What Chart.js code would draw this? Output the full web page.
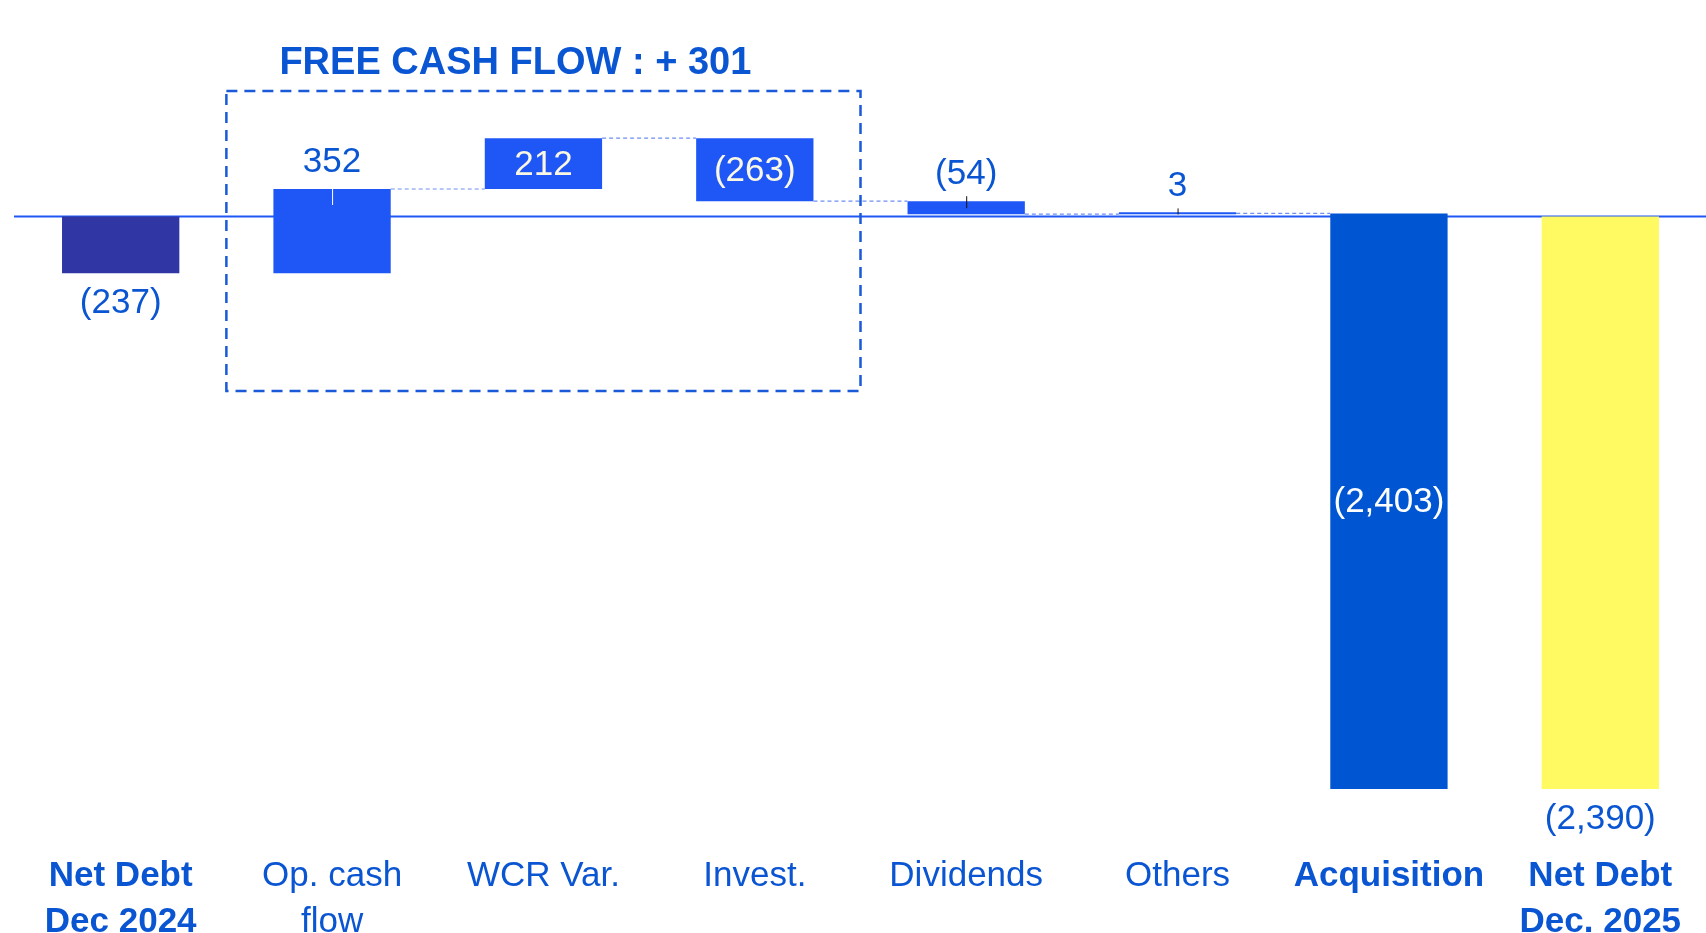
<!DOCTYPE html>
<html>
<head>
<meta charset="utf-8">
<script src="https://cdn.jsdelivr.net/npm/chart.js@4.4.1/dist/chart.umd.min.js"></script>
<style>
  html, body { margin: 0; padding: 0; background: #ffffff; }
  #wrap { width: 1706px; height: 933px; position: relative; }
</style>
</head>
<body>
<div id="wrap"><canvas id="chart_bridge"></canvas></div>
<script>
// net debt bridge, Dec 2024 -> Dec 2025
const categories = [['Net Debt', 'Dec 2024'], ['Op. cash', 'flow'], 'WCR Var.', 'Invest.', 'Dividends', 'Others', 'Acquisition', ['Net Debt', 'Dec. 2025']];
const movements = [-237, 352, 212, -263, -54, 3, -2403, -2390];
const isTotal = [true, false, false, false, false, false, false, true];
const boldLabel = [true, false, false, false, false, false, true, true];
const labelPlacement = ['below', 'above', 'inside', 'inside', 'above', 'above', 'inside', 'below'];
const fcfItems = [1, 2, 3];
const fcfBoxRange = [524, -728];

const FONT = "'Liberation Sans', Arial, sans-serif";
const TEXT_BLUE = '#0a55d2';
const barColors = ['#3036a3', '#1f57f7', '#1f57f7', '#1f57f7', '#1f57f7', '#1f57f7', '#0056d2', '#fffa61'];

const ranges = [];
let running = 0;
movements.forEach((v, i) => {
  if (isTotal[i]) {
    ranges.push([0, v]);
    running = v;
  } else {
    ranges.push([running, running + v]);
    running += v;
  }
});

const fcfTotal = fcfItems.reduce((s, i) => s + movements[i], 0);

function fmt(v) {
  const s = Math.abs(v).toLocaleString('en-US');
  return v < 0 ? '(' + s + ')' : s;
}

const bridgePlugin = {
  id: 'bridge',
  beforeDatasetsDraw: chart => {
    const { ctx, chartArea } = chart;
    const y0 = chart.scales.y.getPixelForValue(0);
    ctx.save();
    ctx.beginPath();
    ctx.moveTo(chartArea.left - 1, y0);
    ctx.lineTo(chartArea.right, y0);
    ctx.lineWidth = 2;
    ctx.strokeStyle = '#1f57f7';
    ctx.stroke();
    ctx.restore();
  },
  afterDatasetsDraw: chart => {
    const { ctx } = chart;
    const xs = chart.scales.x;
    const ys = chart.scales.y;
    const bars = chart.getDatasetMeta(0).data;

    // connectors between floating bars
    ctx.save();
    ctx.setLineDash([4, 3]);
    ctx.lineWidth = 1.2;
    ctx.strokeStyle = '#6f8ff2';
    for (let i = 1; i < bars.length - 2; i++) {
      const y = ys.getPixelForValue(ranges[i][1]);
      const a = bars[i], b = bars[i + 1];
      ctx.beginPath();
      ctx.moveTo(a.x + a.width / 2, y);
      ctx.lineTo(b.x - b.width / 2, y);
      ctx.stroke();
    }
    ctx.restore();

    // small leader ticks
    ctx.save();
    ctx.lineWidth = 1;
    bars.forEach((bar, i) => {
      if (labelPlacement[i] !== 'above') return;
      const top = Math.min(ys.getPixelForValue(ranges[i][0]), ys.getPixelForValue(ranges[i][1]));
      const bottom = Math.max(ys.getPixelForValue(ranges[i][0]), ys.getPixelForValue(ranges[i][1]));
      ctx.beginPath();
      if (i === 1) {
        ctx.strokeStyle = '#ffffff';
        ctx.moveTo(bar.x + 0.5, top);
        ctx.lineTo(bar.x + 0.5, top + 16);
      } else {
        ctx.strokeStyle = '#111111';
        ctx.moveTo(bar.x + 0.5, top - 5);
        ctx.lineTo(bar.x + 0.5, Math.max(bottom, top + 1) + (i === 4 ? -6 : 0));
      }
      ctx.stroke();
    });
    ctx.restore();

    // value labels
    ctx.save();
    ctx.font = '35px ' + FONT;
    ctx.textAlign = 'center';
    ctx.textBaseline = 'middle';
    bars.forEach((bar, i) => {
      const p0 = ys.getPixelForValue(ranges[i][0]);
      const p1 = ys.getPixelForValue(ranges[i][1]);
      const top = Math.min(p0, p1), bottom = Math.max(p0, p1);
      let y, color = TEXT_BLUE;
      if (labelPlacement[i] === 'above') y = top - 27;
      else if (labelPlacement[i] === 'below') y = bottom + 30;
      else {
        y = (top + bottom) / 2 + 1.5;
        color = i === 6 ? '#ffffff' : '#fbf8e2';
      }
      ctx.fillStyle = color;
      ctx.fillText(fmt(movements[i]), bar.x, y);
    });
    ctx.restore();

    // free cash flow box + heading
    const half = (chart.chartArea.width / categories.length) / 2;
    const left = xs.getPixelForValue(fcfItems[0]) - half;
    const right = xs.getPixelForValue(fcfItems[fcfItems.length - 1]) + half;
    const top = ys.getPixelForValue(fcfBoxRange[0]);
    const bottom = ys.getPixelForValue(fcfBoxRange[1]);
    ctx.save();
    ctx.setLineDash([11, 7]);
    ctx.lineWidth = 2.5;
    ctx.strokeStyle = '#1a5ad8';
    ctx.strokeRect(left, top, right - left, bottom - top);
    ctx.setLineDash([]);
    ctx.fillStyle = TEXT_BLUE;
    ctx.font = 'bold 38px ' + FONT;
    ctx.textAlign = 'left';
    ctx.textBaseline = 'middle';
    ctx.fillText('FREE CASH FLOW : + ' + fcfTotal, left + 53, top - 28);
    ctx.restore();
  }
};

new Chart(document.getElementById('chart_bridge'), {
  type: 'bar',
  data: {
    labels: categories,
    datasets: [{
      data: ranges,
      backgroundColor: barColors,
      borderWidth: 0,
      barPercentage: 0.555,
      categoryPercentage: 1,
      minBarLength: 2
    }]
  },
  options: {
    responsive: true,
    maintainAspectRatio: false,
    animation: false,
    events: [],
    layout: { padding: { left: 15, right: 0, top: 0, bottom: 0 } },
    scales: {
      x: {
        grid: { display: false, drawTicks: false },
        border: { display: false },
        afterFit: scale => { scale.height = 80; },
        ticks: {
          color: TEXT_BLUE,
          padding: 0,
          maxRotation: 0,
          autoSkip: false,
          font: ctx => ({
            family: FONT,
            size: 35,
            lineHeight: 1.33,
            weight: boldLabel[ctx.index] ? 'bold' : 'normal'
          })
        }
      },
      y: {
        display: false,
        min: -2657,
        max: 904
      }
    },
    plugins: {
      legend: { display: false },
      tooltip: { enabled: false }
    }
  },
  plugins: [bridgePlugin]
});
</script>
</body>
</html>
